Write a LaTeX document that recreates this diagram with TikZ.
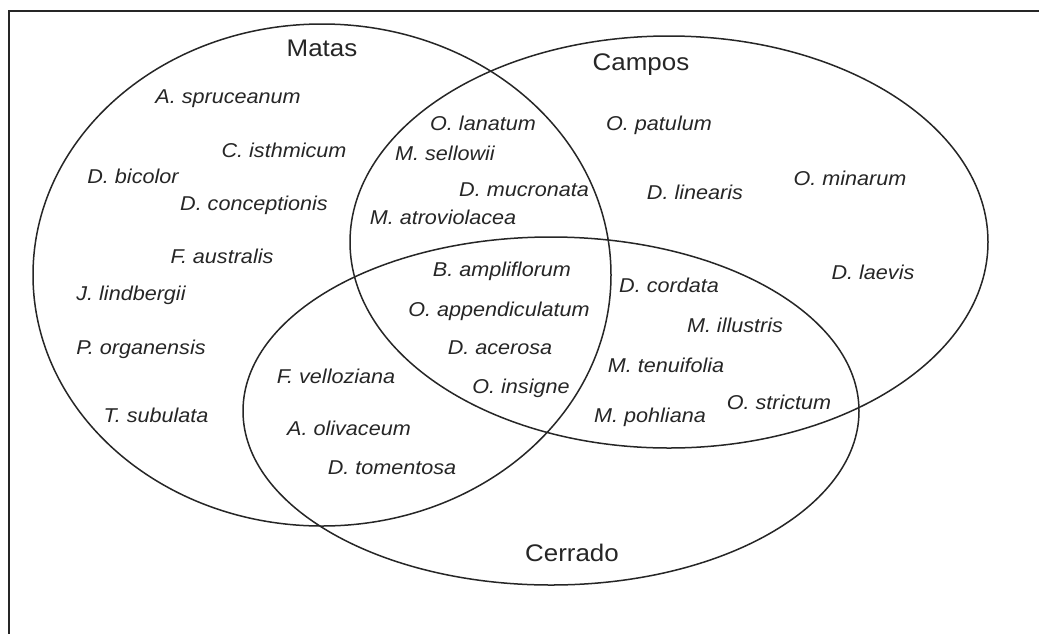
\documentclass[tikz,border=0pt]{standalone}
\usepackage{fontspec}
\setmainfont{Liberation Sans}
\begin{document}
\begin{tikzpicture}[x=1pt,y=-1pt,
  sp/.style={font=\fontsize{20}{24}\selectfont\itshape, inner sep=0pt, xscale=1.08, text=black!85},
  ttl/.style={font=\fontsize{24}{28}\selectfont, inner sep=0pt, xscale=1.08, text=black!85},
  set/.style={draw=black!85, line width=1.5pt},
  frame/.style={draw=black!85, line width=2pt}]
\useasboundingbox (0,0) rectangle (1039,633);
\fill[white] (0,0) rectangle (1039,633);
\draw[frame] (9,11) rectangle (1050,650);
% sets
\draw[set] (322,275) ellipse [x radius=289, y radius=251];
\draw[set] (669,242) ellipse [x radius=319, y radius=206];
\draw[set] (551,411) ellipse [x radius=308, y radius=174];
% titles
\node[ttl] (matas) at (322,48) {Matas};
\node[ttl] (campos) at (641,65) {Campos};
\node[ttl] (cerrado) at (572,553) {Cerrado};
% Matas only
\node[sp] (a1) at (228,99) {A. spruceanum};
\node[sp] (a2) at (284,150) {C. isthmicum};
\node[sp] (a3) at (133,176) {D. bicolor};
\node[sp] (a4) at (254,205) {D. conceptionis};
\node[sp] (a5) at (222,256) {F. australis};
\node[sp] (a6) at (131,295) {J. lindbergii};
\node[sp] (a7) at (141,349) {P. organensis};
\node[sp] (a8) at (156,415) {T. subulata};
% Matas & Campos
\node[sp] (b1) at (483,123) {O. lanatum};
\node[sp] (b2) at (445,153) {M. sellowii};
\node[sp] (b3) at (524,190) {D. mucronata};
\node[sp] (b4) at (443,217) {M. atroviolacea};
% Campos only
\node[sp] (c1) at (659,125) {O. patulum};
\node[sp] (c2) at (695,192) {D. linearis};
\node[sp] (c3) at (850,178) {O. minarum};
\node[sp] (c4) at (873,272) {D. laevis};
% all three
\node[sp] (d1) at (502,271) {B. ampliflorum};
\node[sp] (d2) at (499,311) {O. appendiculatum};
\node[sp] (d3) at (500,348) {D. acerosa};
\node[sp] (d4) at (521,388) {O. insigne};
% Matas & Cerrado
\node[sp] (e1) at (336,376) {F. velloziana};
\node[sp] (e2) at (349,428) {A. olivaceum};
\node[sp] (e3) at (392,468) {D. tomentosa};
% Campos & Cerrado
\node[sp] (f1) at (669,285) {D. cordata};
\node[sp] (f2) at (735,325) {M. illustris};
\node[sp] (f3) at (666,365) {M. tenuifolia};
\node[sp] (f4) at (650,417) {M. pohliana};
\node[sp] (f5) at (779,402) {O. strictum};
\end{tikzpicture}
\end{document}
